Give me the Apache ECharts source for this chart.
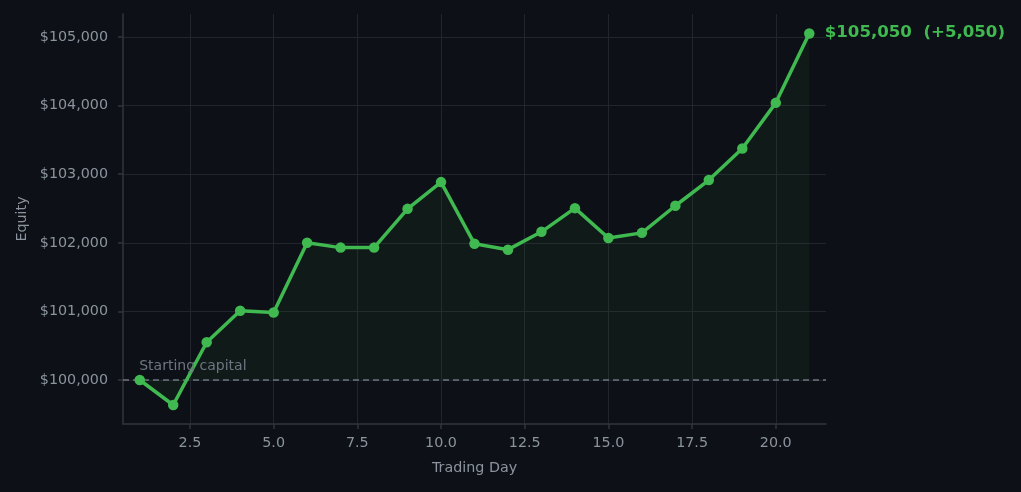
<!DOCTYPE html>
<html>
<head>
<meta charset="utf-8">
<script src="https://cdn.jsdelivr.net/npm/echarts@6/dist/echarts.min.js"></script>
<style>
  html, body { margin: 0; padding: 0; background: #0d1117; }
  #chart { width: 1021px; height: 492px; }
</style>
</head>
<body>
<div id="chart"></div>
<script>
// trading days and equity values
const days = [1, 2, 3, 4, 5, 6, 7, 8, 9, 10, 11, 12, 13, 14, 15, 16, 17, 18, 19, 20, 21];
const equity = [
  100000, 99636, 100550, 101010, 100985, 102000, 101930, 101930, 102495, 102885,
  101985, 101900, 102160, 102505, 102070, 102145, 102540, 102915, 103375, 104040, 105050,
];
const startCapital = 100000;
const xTicks = [2.5, 5.0, 7.5, 10.0, 12.5, 15.0, 17.5, 20.0];
const yTicks = [100000, 101000, 102000, 103000, 104000, 105000];

const chart = echarts.init(document.getElementById('chart'), null, { renderer: 'canvas' });

const green = '#3fb950';
const muted = '#8b949e';
const gridCol = '#21262d';
const spineCol = '#30363d';
const font = 'DejaVu Sans';

const last = equity[equity.length - 1];
const delta = last - startCapital;
const fmt = (v) => v.toLocaleString('en-US');
const endLabel = `$${fmt(last)}  (${delta >= 0 ? '+' : '-'}${fmt(Math.abs(delta))})`;

const option = {
  animation: false,
  backgroundColor: '#0d1117',
  textStyle: { fontFamily: font },
  grid: { left: 123, right: 195, top: 14, bottom: 68 },
  xAxis: {
    type: 'value',
    min: 0.5,
    max: 21.5,
    name: 'Trading Day',
    nameLocation: 'middle',
    nameGap: 37,
    nameTextStyle: { color: muted, fontSize: 14.3, fontFamily: font },
    axisLine: { show: true, lineStyle: { color: spineCol, width: 1.5 } },
    axisTick: { show: true, length: 5, lineStyle: { color: spineCol, width: 1.5 }, customValues: xTicks },
    axisLabel: {
      color: muted, fontSize: 14.3, fontFamily: font, margin: 12,
      customValues: xTicks,
      formatter: (v) => v.toFixed(1),
    },
    splitLine: { show: true, lineStyle: { color: gridCol, width: 1 } },
  },
  yAxis: {
    type: 'value',
    min: 99359,
    max: 105335,
    name: 'Equity',
    nameLocation: 'middle',
    nameGap: 94,
    nameTextStyle: { color: muted, fontSize: 14.3, fontFamily: font },
    axisLine: { show: true, lineStyle: { color: spineCol, width: 1.5 } },
    axisTick: { show: true, length: 5, lineStyle: { color: spineCol, width: 1.5 }, customValues: yTicks },
    axisLabel: {
      color: muted, fontSize: 14.3, fontFamily: font, margin: 15,
      customValues: yTicks,
      formatter: (v) => '$' + fmt(v),
    },
    splitLine: { show: true, lineStyle: { color: gridCol, width: 1 } },
  },
  series: [
    {
      type: 'line',
      data: days.map((d, i) => [d, equity[i]]),
      symbol: 'circle',
      symbolSize: 10.5,
      itemStyle: { color: green },
      lineStyle: { color: green, width: 3.5 },
      areaStyle: { color: 'rgba(63,185,80,0.08)', origin: startCapital },
      z: 3,
      markLine: {
        silent: true,
        symbol: 'none',
        label: { show: false },
        lineStyle: { color: '#6e7681', type: [6, 4], width: 1.5 },
        data: [{ yAxis: startCapital }],
        z: 2,
      },
      markPoint: {
        silent: true,
        symbol: 'circle',
        symbolSize: 1,
        itemStyle: { color: 'rgba(0,0,0,0)' },
        data: [
          {
            coord: [days[0], startCapital],
            label: {
              show: true,
              formatter: 'Starting capital',
              position: [0, -13],
              align: 'left',
              verticalAlign: 'middle',
              color: '#6e7681',
              fontSize: 14,
              fontFamily: font,
            },
          },
          {
            coord: [days[days.length - 1], last],
            label: {
              show: true,
              formatter: endLabel,
              position: [16, 0],
              align: 'left',
              verticalAlign: 'middle',
              color: green,
              fontSize: 16.6,
              fontWeight: 'bold',
              fontFamily: font,
            },
          },
        ],
      },
    },
  ],
};

chart.setOption(option);
</script>
</body>
</html>
